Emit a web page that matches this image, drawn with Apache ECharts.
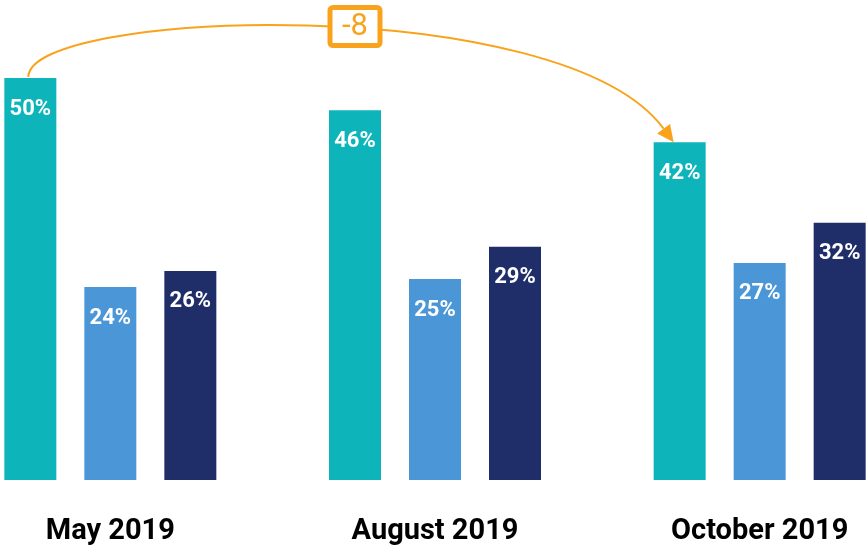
<!DOCTYPE html>
<html lang="en">
<head>
  <meta charset="UTF-8">
  <title>Survey 2019</title>
  <script src="https://cdn.jsdelivr.net/npm/echarts@6/dist/echarts.min.js"></script>
  <style>
    body { margin: 0; padding: 0; background: #fff; }
    #chart { width: 866px; height: 547px; }
  </style>
</head>
<body>
  <div id="chart"></div>
  <script>
    // data
    var categories = ['May 2019', 'August 2019', 'October 2019'];
    var seriesA = [50, 46, 42];
    var seriesB = [24, 25, 27];
    var seriesC = [26, 29, 32];
    var colors = ['#0db5ba', '#4b96d6', '#1f2e69'];
    var orange = '#f9a21c';

    var barWidth = 52;
    var gapPx = 28;

    var chart = echarts.init(document.getElementById('chart'));

    function barSeries(name, data, color) {
      return {
        name: name,
        type: 'bar',
        data: data,
        barWidth: barWidth,
        barGap: (gapPx / barWidth * 100) + '%',
        itemStyle: { color: color },
        label: {
          show: true,
          position: 'insideTop',
          distance: 20,
          formatter: '{c}%',
          color: '#fff',
          fontSize: 22,
          fontWeight: 'bold',
          fontFamily: 'Roboto',
          lineHeight: 22
        },
        emphasis: { disabled: true },
        silent: true
      };
    }

    var option = {
      animation: false,
      grid: {
        left: -52,
        right: -56,
        top: 78,
        bottom: 67,
        outerBoundsMode: 'none'
      },
      xAxis: {
        type: 'category',
        data: categories,
        axisLine: { show: false },
        axisTick: { show: false },
        axisLabel: {
          margin: 37,
          fontSize: 29,
          fontWeight: 'bold',
          fontFamily: 'Roboto',
          color: '#000'
        }
      },
      yAxis: {
        type: 'value',
        min: 0,
        max: 50,
        show: false,
        splitLine: { show: false }
      },
      series: [
        barSeries('A', seriesA, colors[0]),
        barSeries('B', seriesB, colors[1]),
        barSeries('C', seriesC, colors[2])
      ]
    };

    chart.setOption(option);

    // annotation: change of the first series from first to last period
    function barTop(seriesIndex, catIndex, value) {
      var p = chart.convertToPixel({ gridIndex: 0 }, [catIndex, value]);
      var off = (seriesIndex - 1) * (barWidth + gapPx);
      return [p[0] + off, p[1]];
    }

    var last = categories.length - 1;
    var diff = seriesA[last] - seriesA[0];
    var p0 = barTop(0, 0, seriesA[0]);
    var p3 = barTop(0, last, seriesA[last]);
    var mid = barTop(0, 1, seriesA[1]);
    var start = [p0[0] - 2, p0[1] - 1];
    var tip = [p3[0] - 6, p3[1]];
    var c1 = [start[0], start[1] - 68];
    var c2 = [tip[0] - 112, tip[1] - 152];

    var dx = tip[0] - c2[0], dy = tip[1] - c2[1];
    var len = Math.sqrt(dx * dx + dy * dy);
    var ux = dx / len, uy = dy / len;
    var headLen = 17, headW = 8;
    var base = [tip[0] - ux * headLen, tip[1] - uy * headLen];
    var head = [
      tip,
      [base[0] - uy * headW, base[1] + ux * headW],
      [base[0] + uy * headW, base[1] - ux * headW]
    ];

    var boxW = 50, boxH = 38;
    var boxX = mid[0] - boxW / 2;
    var boxY = 7.5;

    chart.setOption({
      graphic: [
        {
          type: 'bezierCurve',
          shape: {
            x1: start[0], y1: start[1],
            cpx1: c1[0], cpy1: c1[1],
            cpx2: c2[0], cpy2: c2[1],
            x2: base[0], y2: base[1]
          },
          style: { stroke: orange, lineWidth: 2, fill: null },
          z: 10
        },
        {
          type: 'polygon',
          shape: { points: head },
          style: { fill: orange },
          z: 10
        },
        {
          type: 'rect',
          shape: { x: boxX, y: boxY, width: boxW, height: boxH, r: 3 },
          style: { fill: '#fff', stroke: orange, lineWidth: 5 },
          z: 11
        },
        {
          type: 'text',
          x: mid[0],
          y: boxY + boxH / 2 + 1,
          style: {
            text: String(diff),
            fill: orange,
            fontSize: 31,
            fontFamily: 'Roboto',
            align: 'center',
            verticalAlign: 'middle'
          },
          z: 12
        }
      ]
    });

    window.addEventListener('resize', function () {
      chart.resize();
    });
  </script>
</body>
</html>
